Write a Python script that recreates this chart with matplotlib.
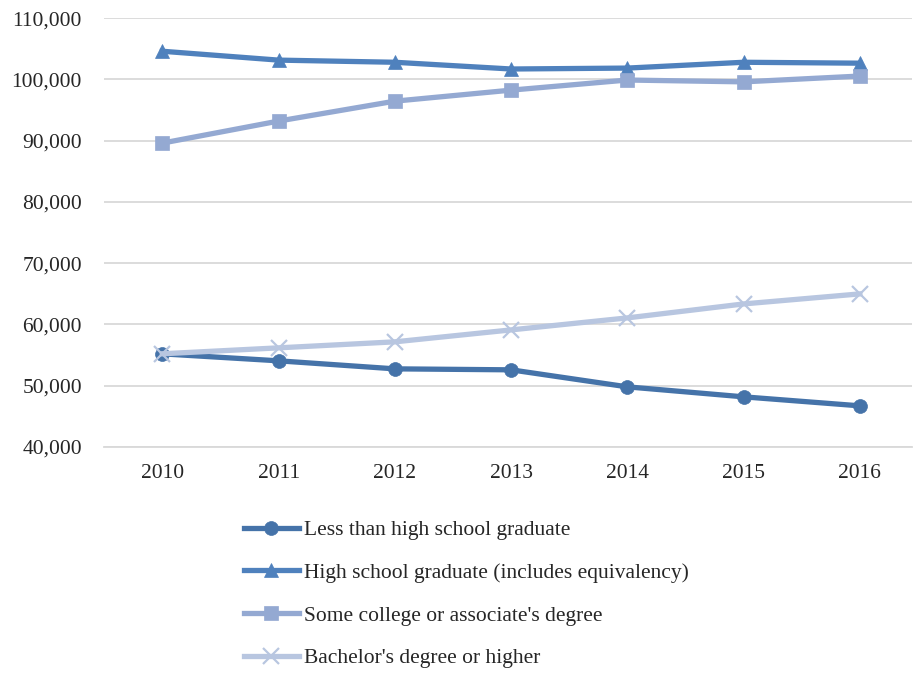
import matplotlib
matplotlib.use("Agg")
import matplotlib.pyplot as plt
from matplotlib.ticker import FuncFormatter

years = ["2010", "2011", "2012", "2013", "2014", "2015", "2016"]
less_than_hs = [55190, 54050, 52740, 52580, 49800, 48170, 46700]
hs_grad = [104600, 103150, 102800, 101700, 101850, 102800, 102650]
some_college = [89600, 93200, 96450, 98250, 99900, 99600, 100550]
bachelor = [55200, 56170, 57150, 59100, 61060, 63340, 64980]

labels = ["Less than high school graduate",
          "High school graduate (includes equivalency)",
          "Some college or associate's degree",
          "Bachelor's degree or higher"]
colors = ["#4573a9", "#4f81bd", "#94a9d2", "#b8c6e0"]
markers = ["o", "^", "s", "x"]

plt.rcParams['font.family'] = ['Liberation Serif', 'DejaVu Serif']

fig = plt.figure(figsize=(9.14, 6.73), dpi=100)
ax = fig.add_axes([0.114, 0.336, 0.884, 0.637])

x = list(range(len(years)))
for vals, lab, c, m in zip([less_than_hs, hs_grad, some_college, bachelor], labels, colors, markers):
    ms = 10 if m != "x" else 11
    ax.plot(x, vals, color=c, lw=3.8, marker=m, markersize=ms, label=lab,
            markeredgewidth=1.6 if m == "x" else 0.5, markeredgecolor=c)

ax.set_ylim(40000, 110000)
ax.set_yticks(range(40000, 110001, 10000))
ax.yaxis.set_major_formatter(FuncFormatter(lambda v, p: f"{int(v):,}"))
ax.set_xlim(-0.5, 6.45)
ax.set_xticks(x)
ax.set_xticklabels(years)
ax.grid(axis='y', color='#d9d9d9', lw=1.3)
ax.set_axisbelow(True)
for s in ['top', 'right', 'left']:
    ax.spines[s].set_visible(False)
ax.spines['bottom'].set_color('#d9d9d9')
ax.spines['bottom'].set_linewidth(1.3)
ax.tick_params(axis='both', length=0, labelsize=15.5, colors='#262626', pad=12)
ax.tick_params(axis='y', pad=16)

leg = fig.legend(loc='upper left', bbox_to_anchor=(0.257, 0.24), ncol=1, frameon=False,
                 fontsize=15.5, handlelength=2.6, handletextpad=0.2, labelspacing=1.05,
                 borderaxespad=0)
for t in leg.get_texts():
    t.set_color('#262626')

fig.savefig("out.png", dpi=100)
